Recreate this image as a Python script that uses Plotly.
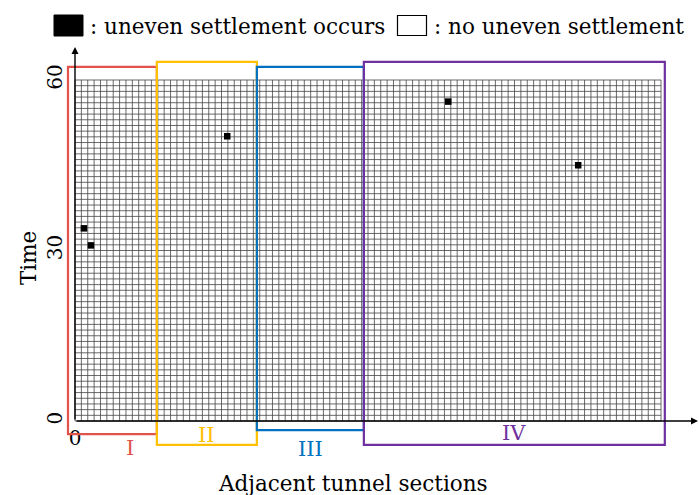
import plotly.graph_objects as go

W, H = 699, 495

# grid size: tunnel sections along x, time steps along y
N_SECTIONS = 92
T_MAX = 60

# cells where uneven settlement occurs (section, time)
event_sections = [1.4, 2.5, 23.9, 58.6, 79.0]
event_times = [33.9, 30.9, 50.1, 56.2, 45.0]

# section groups I-IV
region_names = ["I", "II", "III", "IV"]
region_colors = ["#e2534b", "#ffc000", "#0070c0", "#7030a0"]
region_edges = [-1.1, 12.85, 28.55, 45.35, 92.6]
region_top = [62.3, 63.2, 62.3, 63.2]
region_bottom = [-2.3, -4.2, -1.6, -4.2]
region_label_x = [8.6, 20.6, 36.9, 68.9]
region_label_y = [-4.7, -2.4, -4.85, -2.1]

y_ticks = [0, 30, 60]

SERIF = "DejaVu Serif"

# pixel placement of the origin and unit sizes
X0_PX, Y0_PX = 75, 421
SX = 586 / N_SECTIONS
SY = 341 / T_MAX
x_range = [-X0_PX / SX, (W - X0_PX) / SX]
y_range = [(Y0_PX - H) / SY, Y0_PX / SY]


def px_to_x(px):
    return (px - X0_PX) / SX


def px_to_y(py):
    return (Y0_PX - py) / SY


def paper_x(px):
    return px / W


def paper_y(py):
    return 1 - py / H


# grid lines, one per section and one per time step
gx, gy = [], []
for i in range(N_SECTIONS + 1):
    gx += [i, i, None]
    gy += [0, T_MAX, None]
for j in range(T_MAX + 1):
    gx += [0, N_SECTIONS, None]
    gy += [j, j, None]

fig = go.Figure()
fig.add_trace(go.Scatter(
    x=gx, y=gy, mode="lines",
    line=dict(color="#444444", width=0.8),
    hoverinfo="skip", showlegend=False,
))
fig.add_trace(go.Scatter(
    x=event_sections, y=event_times, mode="markers",
    marker=dict(symbol="square", size=6.5, color="black", line=dict(width=0)),
    showlegend=False,
))

shapes = []
# region boxes, drawn in order so each later box covers the shared edge
for k in range(4):
    shapes.append(dict(
        type="rect", xref="x", yref="y",
        x0=region_edges[k], x1=region_edges[k + 1],
        y0=region_bottom[k], y1=region_top[k],
        line=dict(color=region_colors[k], width=2.2),
        fillcolor="rgba(0,0,0,0)", layer="above",
    ))

# key at the top
shapes.append(dict(type="rect", xref="paper", yref="paper",
                   x0=paper_x(54), x1=paper_x(83), y0=paper_y(36), y1=paper_y(15),
                   fillcolor="black", line=dict(color="black", width=1)))
shapes.append(dict(type="rect", xref="paper", yref="paper",
                   x0=paper_x(397.5), x1=paper_x(426.5), y0=paper_y(35.5), y1=paper_y(15.5),
                   fillcolor="white", line=dict(color="black", width=1.2)))

annotations = []
for k in range(4):
    annotations.append(dict(
        x=region_label_x[k], y=region_label_y[k], xref="x", yref="y",
        xanchor="center", yanchor="middle",
        text=region_names[k], showarrow=False,
        font=dict(family=SERIF, size=21, color=region_colors[k]),
    ))

# axis arrows
annotations.append(dict(
    x=px_to_x(698), y=0, ax=0, ay=0, xref="x", yref="y", axref="x", ayref="y",
    text="", showarrow=True, arrowhead=2, arrowsize=1, arrowwidth=1.4, arrowcolor="black",
))
annotations.append(dict(
    x=0, y=px_to_y(47), ax=0, ay=0, xref="x", yref="y", axref="x", ayref="y",
    text="", showarrow=True, arrowhead=2, arrowsize=1, arrowwidth=1.4, arrowcolor="black",
))

annotations.append(dict(
    x=paper_x(88), y=paper_y(26), xref="paper", yref="paper", xanchor="left", yanchor="middle",
    text=": uneven settlement occurs", showarrow=False,
    font=dict(family=SERIF, size=21.5, color="black"),
))
annotations.append(dict(
    x=paper_x(432), y=paper_y(26), xref="paper", yref="paper", xanchor="left", yanchor="middle",
    text=": no uneven settlement", showarrow=False,
    font=dict(family=SERIF, size=21.5, color="black"),
))
annotations.append(dict(
    x=paper_x(353), y=paper_y(483), xref="paper", yref="paper",
    xanchor="center", yanchor="middle",
    text="Adjacent tunnel sections", showarrow=False,
    font=dict(family=SERIF, size=21.5, color="black"),
))
annotations.append(dict(
    x=paper_x(28), y=paper_y(258), xref="paper", yref="paper", textangle=-90,
    xanchor="center", yanchor="middle",
    text="Time", showarrow=False,
    font=dict(family=SERIF, size=21.5, color="black"),
))

fig.update_layout(
    width=W, height=H,
    margin=dict(l=0, r=0, t=0, b=0),
    paper_bgcolor="white", plot_bgcolor="white",
    shapes=shapes, annotations=annotations,
    xaxis=dict(
        range=x_range, showgrid=False, zeroline=False, showline=False,
        tickvals=[0], ticktext=["0"], ticks="",
        anchor="free", position=(H - Y0_PX) / H,
        tickfont=dict(family=SERIF, size=20, color="black"),
        ticklabelstandoff=3,
    ),
    yaxis=dict(
        range=y_range, showgrid=False, zeroline=False, showline=False,
        tickvals=y_ticks, ticktext=[str(v) for v in y_ticks], ticks="",
        tickangle=-90,
        anchor="free", position=X0_PX / W,
        tickfont=dict(family=SERIF, size=20, color="black"),
        ticklabelstandoff=9,
    ),
)

fig.write_html("out.html")
